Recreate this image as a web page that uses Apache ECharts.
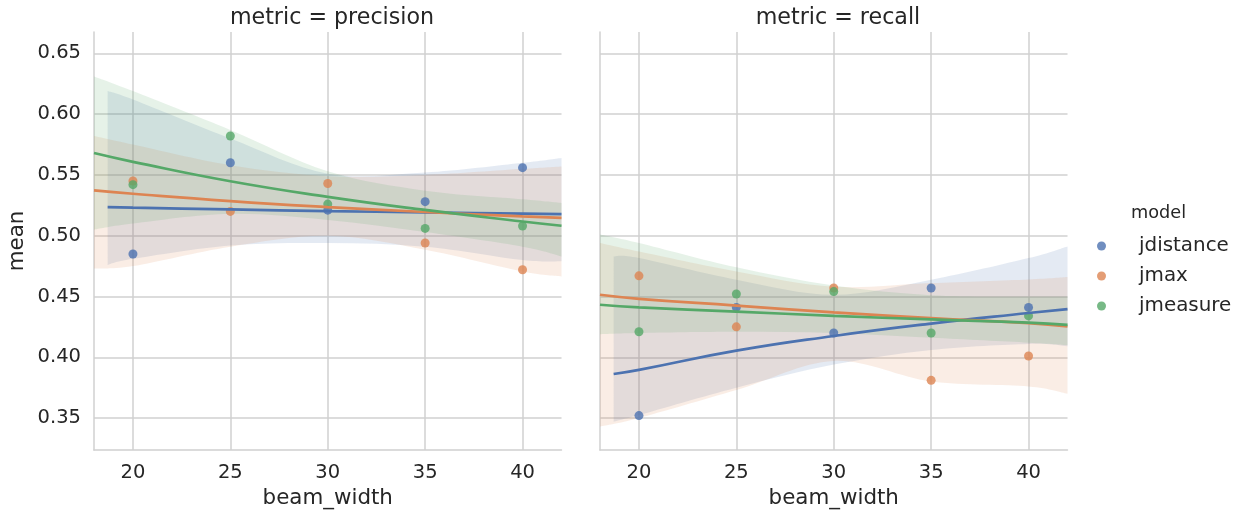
<!DOCTYPE html>
<html>
<head>
<meta charset="utf-8">
<script src="https://cdn.jsdelivr.net/npm/echarts@6/dist/echarts.min.js"></script>
<style>
  html, body { margin: 0; padding: 0; background: #ffffff; }
  #chart { width: 1253px; height: 519px; }
</style>
</head>
<body>
<div id="chart"></div>
<script>
// Beam widths and model names
const BEAM_WIDTHS = [20, 25, 30, 35, 40];
const MODELS = ['jdistance', 'jmax', 'jmeasure'];
const PANEL_TITLES = ['metric = precision', 'metric = recall'];
const Y_TICKS = [0.35, 0.40, 0.45, 0.50, 0.55, 0.60, 0.65];
const X_TICKS = [20, 25, 30, 35, 40];

// Mean scores per beam width
const PRECISION_JDISTANCE = [0.485, 0.560, 0.521, 0.528, 0.556];
const PRECISION_JMAX      = [0.545, 0.520, 0.543, 0.494, 0.472];
const PRECISION_JMEASURE  = [0.542, 0.582, 0.526, 0.506, 0.508];
const RECALL_JDISTANCE    = [0.352, 0.441, 0.420, 0.457, 0.441];
const RECALL_JMAX         = [0.467, 0.425, 0.457, 0.381, 0.401];
const RECALL_JMEASURE     = [0.421, 0.452, 0.454, 0.420, 0.434];

// Regression curve samples (log-x fit) and their 95% bands
const FIT_X           = [18, 20, 25, 30, 35, 40, 42];
const FIT_X_JDISTANCE = [18.7, 20, 25, 30, 35, 40, 42];

const P_FIT_JDISTANCE = [0.5236, 0.5231, 0.5216, 0.5203, 0.5192, 0.5182, 0.5178];
const P_FIT_JMAX      = [0.5373, 0.5345, 0.5285, 0.5236, 0.5195, 0.5159, 0.5146];
const P_FIT_JMEASURE  = [0.5680, 0.5608, 0.5448, 0.5320, 0.5212, 0.5117, 0.5082];
const R_FIT_JDISTANCE = [0.3862, 0.3896, 0.4054, 0.4175, 0.4277, 0.4364, 0.4396];
const R_FIT_JMAX      = [0.4514, 0.4481, 0.4425, 0.4369, 0.4322, 0.4280, 0.4253];
const R_FIT_JMEASURE  = [0.4432, 0.4411, 0.4376, 0.4341, 0.4311, 0.4285, 0.4267];

const P_LO_JDISTANCE = [0.476, 0.481, 0.492, 0.494, 0.491, 0.480, 0.479];
const P_HI_JDISTANCE = [0.619, 0.612, 0.580, 0.551, 0.552, 0.560, 0.564];
const P_LO_JMAX      = [0.473, 0.475, 0.491, 0.500, 0.4885, 0.4706, 0.4665];
const P_HI_JMAX      = [0.582, 0.575, 0.558, 0.549, 0.550, 0.555, 0.557];
const P_LO_JMEASURE  = [0.505, 0.510, 0.518, 0.513, 0.503, 0.491, 0.483];
const P_HI_JMEASURE  = [0.631, 0.619, 0.587, 0.553, 0.537, 0.530, 0.527];

const R_LO_JDISTANCE = [0.347, 0.3525, 0.375, 0.394, 0.406, 0.411, 0.409];
const R_HI_JDISTANCE = [0.483, 0.4816, 0.4638, 0.4514, 0.4638, 0.4816, 0.4912];
const R_LO_JMAX      = [0.343, 0.350, 0.373, 0.397, 0.380, 0.376, 0.370];
const R_HI_JMAX      = [0.494, 0.487, 0.4706, 0.458, 0.461, 0.464, 0.466];
const R_LO_JMEASURE  = [0.419, 0.420, 0.421, 0.420, 0.416, 0.412, 0.410];
const R_HI_JMEASURE  = [0.501, 0.494, 0.474, 0.459, 0.451, 0.450, 0.450];

const COLORS = ['#4c72b0', '#dd8452', '#55a868'];
const FONT = 'DejaVu Sans';
const TEXT = '#262626';
const GRID_COLOR = '#d0d0d0';

const panels = [
  {
    means: [PRECISION_JDISTANCE, PRECISION_JMAX, PRECISION_JMEASURE],
    fits: [P_FIT_JDISTANCE, P_FIT_JMAX, P_FIT_JMEASURE],
    lo: [P_LO_JDISTANCE, P_LO_JMAX, P_LO_JMEASURE],
    hi: [P_HI_JDISTANCE, P_HI_JMAX, P_HI_JMEASURE]
  },
  {
    means: [RECALL_JDISTANCE, RECALL_JMAX, RECALL_JMEASURE],
    fits: [R_FIT_JDISTANCE, R_FIT_JMAX, R_FIT_JMEASURE],
    lo: [R_LO_JDISTANCE, R_LO_JMAX, R_LO_JMEASURE],
    hi: [R_HI_JDISTANCE, R_HI_JMAX, R_HI_JMEASURE]
  }
];

function rgba(hex, a) {
  const n = parseInt(hex.slice(1), 16);
  return 'rgba(' + (n >> 16 & 255) + ',' + (n >> 8 & 255) + ',' + (n & 255) + ',' + a + ')';
}

// Catmull-Rom segments through pixel points, as cubic Bezier commands
function curveThrough(pts) {
  let d = '';
  for (let i = 0; i < pts.length - 1; i++) {
    const p0 = pts[i - 1] || pts[i];
    const p1 = pts[i];
    const p2 = pts[i + 1];
    const p3 = pts[i + 2] || pts[i + 1];
    const c1x = p1[0] + (p2[0] - p0[0]) / 6, c1y = p1[1] + (p2[1] - p0[1]) / 6;
    const c2x = p2[0] - (p3[0] - p1[0]) / 6, c2y = p2[1] - (p3[1] - p1[1]) / 6;
    d += ' C' + c1x + ' ' + c1y + ' ' + c2x + ' ' + c2y + ' ' + p2[0] + ' ' + p2[1];
  }
  return d;
}

function bandSeries(p, xs, lo, hi, color) {
  return {
    type: 'custom', xAxisIndex: p, yAxisIndex: p, silent: true,
    encode: { x: 0, y: [1, 2] },
    data: xs.map((x, i) => [x, lo[i], hi[i]]),
    renderItem: function (params, api) {
      if (params.dataIndex !== 0) return null;
      const upper = xs.map((x, i) => api.coord([x, hi[i]]));
      const lower = xs.map((x, i) => api.coord([x, lo[i]])).reverse();
      const d = 'M' + upper[0][0] + ' ' + upper[0][1] + curveThrough(upper) +
        ' L' + lower[0][0] + ' ' + lower[0][1] + curveThrough(lower) + ' Z';
      return { type: 'path', shape: { pathData: d }, style: { fill: rgba(color, 0.15) } };
    }
  };
}

const series = [];
panels.forEach((panel, p) => {
  MODELS.forEach((model, m) => {
    const xs = m === 0 ? FIT_X_JDISTANCE : FIT_X;
    const color = COLORS[m];
    // observed means
    series.push({
      type: 'scatter', name: model, xAxisIndex: p, yAxisIndex: p,
      symbol: 'circle', symbolSize: 9, silent: true,
      itemStyle: { color: color, opacity: 0.8 },
      data: BEAM_WIDTHS.map((x, i) => [x, panel.means[m][i]])
    });
    // regression curve
    series.push({
      type: 'line', xAxisIndex: p, yAxisIndex: p, smooth: true,
      symbol: 'none', silent: true,
      lineStyle: { color: color, width: 2.7 },
      data: xs.map((x, i) => [x, panel.fits[m][i]])
    });
    // confidence band
    series.push(bandSeries(p, xs, panel.lo[m], panel.hi[m], color));
  });
});

const grids = [
  { left: 94, top: 32, width: 467.5, height: 418 },
  { left: 600, top: 32, width: 467.5, height: 418 }
];

const xAxes = grids.map((g, i) => ({
  type: 'value', gridIndex: i, min: 18, max: 42,
  name: 'beam_width', nameLocation: 'middle', nameGap: 38,
  nameTextStyle: { fontFamily: FONT, fontSize: 21.4, color: TEXT },
  axisLine: { show: true, lineStyle: { color: GRID_COLOR, width: 1.5 } },
  axisTick: { show: false, customValues: X_TICKS },
  axisLabel: { customValues: X_TICKS, fontFamily: FONT, fontSize: 19.5, color: TEXT, margin: 13 },
  splitLine: { show: true, lineStyle: { color: GRID_COLOR, width: 1.5 } }
}));

const yAxes = grids.map((g, i) => ({
  type: 'value', gridIndex: i, min: 0.3237, max: 0.6676,
  name: i === 0 ? 'mean' : '', nameLocation: 'middle', nameGap: 66,
  nameTextStyle: { fontFamily: FONT, fontSize: 21.4, color: TEXT },
  axisLine: { show: true, lineStyle: { color: GRID_COLOR, width: 1.5 } },
  axisTick: { show: false, customValues: Y_TICKS },
  axisLabel: {
    show: i === 0, customValues: Y_TICKS, fontFamily: FONT, fontSize: 19.5,
    color: TEXT, margin: 13, formatter: v => v.toFixed(2)
  },
  splitLine: { show: true, lineStyle: { color: GRID_COLOR, width: 1.5 } }
}));

const option = {
  animation: false,
  backgroundColor: '#ffffff',
  title: [
    { text: PANEL_TITLES[0], left: 327, top: 2, textAlign: 'center',
      textStyle: { fontFamily: FONT, fontSize: 22.2, fontWeight: 'normal', color: TEXT } },
    { text: PANEL_TITLES[1], left: 833, top: 2, textAlign: 'center',
      textStyle: { fontFamily: FONT, fontSize: 22.2, fontWeight: 'normal', color: TEXT } },
    { text: 'model', left: 1126, top: 199,
      textStyle: { fontFamily: FONT, fontSize: 17.7, fontWeight: 'normal', color: TEXT } }
  ],
  legend: {
    data: MODELS, orient: 'vertical', left: 1092, top: 231,
    icon: 'circle', itemWidth: 9, itemHeight: 9, itemGap: 10,
    selectedMode: false,
    textStyle: { fontFamily: FONT, fontSize: 19.9, color: TEXT, lineHeight: 20, padding: [0, 0, 0, 28] }
  },
  grid: grids,
  xAxis: xAxes,
  yAxis: yAxes,
  series: series
};

const chart = echarts.init(document.getElementById('chart'), null, { renderer: 'canvas' });
chart.setOption(option);
</script>
</body>
</html>
